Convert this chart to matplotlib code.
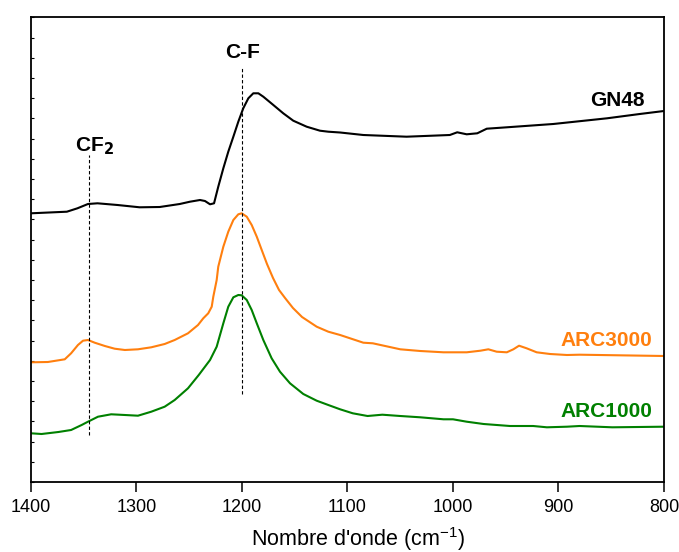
import matplotlib
matplotlib.use("Agg")
import matplotlib.pyplot as plt
import numpy as np

plt.rcParams['font.family'] = ['Liberation Sans', 'DejaVu Sans']

# Wavenumbers (cm-1) and intensities (a.u., offset spectra)
gn48_x = [1400, 1366, 1356, 1346, 1337, 1318, 1297, 1278, 1259, 1249.3, 1239.8, 1235.1,
          1230.3, 1226.5, 1222.5, 1217.7, 1213, 1208.2, 1203.5, 1198.8, 1194, 1189.3,
          1184.5, 1179.8, 1170.3, 1160.9, 1151.4, 1138.7, 1126.1, 1118.2, 1107, 1085,
          1044, 1003, 996, 987, 977, 968, 949, 905, 854, 823, 800]
gn48_y = [268.7, 270.3, 273.7, 278, 278.7, 277, 274.7, 275, 278, 280.3, 282, 281,
          277.7, 278.7, 295.3, 313.7, 330.3, 345.3, 360.3, 373.7, 383.7, 388.7,
          388.7, 385.3, 377, 368.7, 361.3, 355.3, 351.3, 350.3, 349.5, 347,
          345.3, 347, 349.7, 347.7, 348.7, 353.3, 354.7, 358, 363.7, 368, 371]

arc3000_x = [1400, 1384, 1368, 1362, 1355.5, 1350.7, 1346, 1339.6, 1330, 1320.7, 1311,
             1298.6, 1286, 1273.3, 1263.8, 1251.2, 1241.7, 1236.7, 1232, 1228.7, 1227.2,
             1224, 1222.5, 1217.7, 1213, 1208.2, 1203.5, 1200.3, 1195.5, 1190.8, 1186,
             1181.3, 1176.3, 1170.6, 1164.9, 1159.2, 1151.7, 1143.1, 1129.2, 1118.2, 1107,
             1085, 1076, 1050, 1031, 1009, 987, 974, 966.5, 958.6, 949, 942.8, 937.4,
             930.2, 920.7, 908, 892, 880, 800]
arc3000_y = [119.7, 120, 122.7, 128.7, 137, 141.3, 142, 139.3, 136, 133.3, 132,
             132.7, 134.7, 138, 142, 148.7, 157, 163.7, 168.7, 175.3, 185.3,
             202, 215.3, 235.3, 250.3, 262, 267.7, 268.7, 265.3, 257, 245.3,
             232, 218, 204, 192, 184, 174, 165, 155.3, 150.3, 147,
             139.3, 138.7, 132.7, 131, 129.7, 129.7, 131.3, 132.7, 130.3, 129.7, 132.7, 136.3,
             133.7, 129.7, 128, 127, 127.3, 126]

arc1000_x = [1400, 1390, 1374, 1362, 1352, 1346, 1336.5, 1324, 1311, 1298.6, 1286,
             1273.3, 1263.8, 1251.2, 1241, 1230.3, 1224, 1217.7, 1213, 1208.2, 1203.5,
             1200.3, 1195.5, 1190.8, 1186, 1179.8, 1171.9, 1164, 1154.5, 1141.9, 1129.2,
             1118.2, 1107, 1095, 1081, 1067, 1050, 1031, 1009, 1000, 987, 971, 946, 924,
             911, 892, 880, 849, 800]
arc1000_y = [48.7, 48, 50, 52, 57, 60.3, 65.3, 67.7, 67, 66.3, 70.3,
             75.3, 82, 93.7, 107, 122, 135.3, 158.7, 175.3, 184.7, 187,
             186.7, 182, 172, 158.7, 142, 123.7, 110.3, 98.7, 88, 81.3,
             77, 72.7, 68.7, 66, 67.3, 66, 64.7, 62.7, 62.7, 60.3, 58, 56, 56,
             54.7, 55.3, 56, 54.7, 55.3]

band_pos = [1345, 1200]
band_labels = ['CF$_{\\mathbf{2}}$', 'C-F']
band_ymin = [47, 88]
band_ymax = [327, 415]

series_names = ['GN48', 'ARC3000', 'ARC1000']
series_colors = ['#000000', '#FF7F0E', '#008000']

fig = plt.figure(figsize=(6.79, 5.52), dpi=100)
ax = fig.add_axes([31/679, 70/552, 633/679, 465/552])

for xs, ys, c in zip([gn48_x, arc3000_x, arc1000_x], [gn48_y, arc3000_y, arc1000_y], series_colors):
    ax.plot(xs, ys, color=c, lw=1.5, solid_joinstyle='round')

for xp, y0, y1 in zip(band_pos, band_ymin, band_ymax):
    ax.plot([xp, xp], [y0, y1], color='black', lw=0.8, ls=(0, (3, 2)))

ax.text(1345 - 5, 336, band_labels[0], ha='center', va='center', fontsize=15, fontweight='bold')
ax.text(1199, 429, band_labels[1], ha='center', va='center', fontsize=15, fontweight='bold')

ax.text(818, 382, series_names[0], ha='right', va='center', fontsize=15, fontweight='bold', color=series_colors[0])
ax.text(811, 142, series_names[1], ha='right', va='center', fontsize=15, fontweight='bold', color=series_colors[1])
ax.text(811, 70.5, series_names[2], ha='right', va='center', fontsize=15, fontweight='bold', color=series_colors[2])

ax.set_xlim(1400, 800)
ax.set_ylim(0, 465)
ax.set_xticks([1400, 1300, 1200, 1100, 1000, 900, 800])
ax.set_yticks(np.arange(0, 465, 20.2))
ax.set_yticklabels([])
ax.tick_params(axis='x', direction='out', length=7, width=1.1, labelsize=13, pad=5)
ax.tick_params(axis='y', direction='in', length=2, width=0.8)
for s in ax.spines.values():
    s.set_linewidth(1.3)

ax.set_xlabel("Nombre d'onde (cm$^{\\mathregular{-1}}$)", fontsize=15.5)
ax.xaxis.set_label_coords(0.517, -0.092)

fig.savefig('out.png', dpi=100)
